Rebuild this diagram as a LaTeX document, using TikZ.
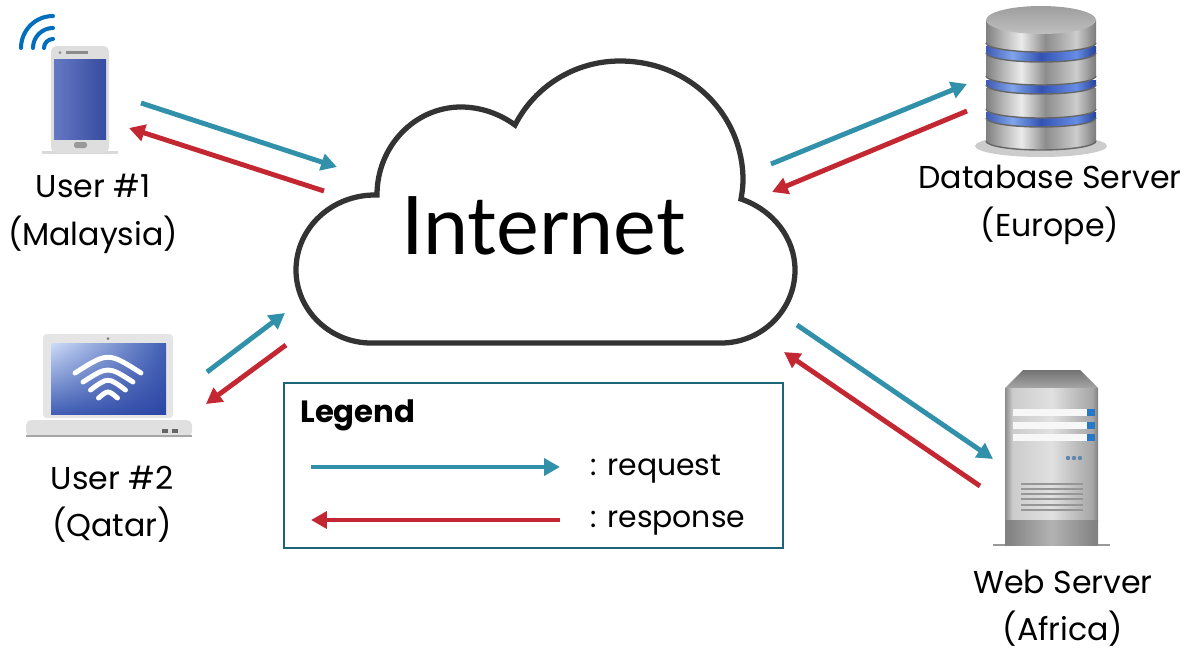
\documentclass[tikz,border=0pt]{standalone}
\usepackage{fontspec}
\setmainfont{Poppins}
\newfontfamily\titlefont{Lato}
\usepackage{tikz}
\usetikzlibrary{positioning}
\usetikzlibrary{arrows.meta}
\usetikzlibrary{shadings}
\definecolor{requestcol}{RGB}{50,145,170}
\definecolor{responsecol}{RGB}{195,40,50}
\definecolor{boxcol}{RGB}{30,100,120}
\definecolor{wificol}{RGB}{0,110,190}
\definecolor{ventcol}{RGB}{150,150,150}
\definecolor{btncol}{RGB}{40,120,200}
\definecolor{dotcol}{RGB}{95,135,175}
\definecolor{screenhi}{RGB}{205,220,248}
\definecolor{screenmid}{RGB}{65,95,180}
\definecolor{screenlo}{RGB}{45,70,165}
\definecolor{phoneleft}{RGB}{100,120,195}
\definecolor{phoneright}{RGB}{55,75,160}
\pgfdeclarehorizontalshading{metal}{100bp}{rgb(0bp)=(.50,.50,.50); rgb(25bp)=(.50,.50,.50); rgb(33bp)=(.72,.72,.72); rgb(41bp)=(.92,.92,.92); rgb(52bp)=(.55,.55,.55); rgb(66bp)=(.80,.80,.80); rgb(75bp)=(.48,.48,.48); rgb(100bp)=(.48,.48,.48)}
\pgfdeclarehorizontalshading{bandblue}{100bp}{rgb(0bp)=(.25,.35,.70); rgb(25bp)=(.25,.35,.70); rgb(37bp)=(.50,.65,.92); rgb(50bp)=(.20,.32,.70); rgb(66bp)=(.40,.55,.90); rgb(75bp)=(.15,.25,.60); rgb(100bp)=(.15,.25,.60)}
\pgfdeclarehorizontalshading{towergray}{100bp}{rgb(0bp)=(.55,.55,.55); rgb(25bp)=(.55,.55,.55); rgb(29bp)=(.80,.80,.80); rgb(50bp)=(.88,.88,.88); rgb(72bp)=(.65,.65,.65); rgb(75bp)=(.50,.50,.50); rgb(100bp)=(.50,.50,.50)}
\tikzset{
    request/.style={draw=requestcol, line width=2.8pt, -{Triangle[length=9pt,width=9.5pt]}},
    response/.style={draw=responsecol, line width=2.8pt, -{Triangle[length=9pt,width=9.5pt]}},
    place/.style={font=\fontsize{18}{27}\selectfont, align=center},
    legendtext/.style={font=\fontsize{17}{20}\selectfont, anchor=base west, inner sep=0pt},
}
% one disk of the database: top of side, bottom of side, shading
\newcommand{\dbslab}[3]{
    \shade[shading=#3] (986,#1) -- (986,#2)
        arc[start angle=180, end angle=0, x radius=55, y radius=9] -- (1096,#1) -- cycle;
    \draw[black!60, line width=0.8pt] (986,#2)
        arc[start angle=180, end angle=0, x radius=55, y radius=9];
}
\begin{document}
\begin{tikzpicture}[x=0.02cm, y=-0.02cm]
    \useasboundingbox (0,0) rectangle (1192,656);

    % cloud
    \draw[line width=3pt, draw=black!80, fill=white] (371,343)
        .. controls (330,343) and (296,310) .. (296,270)
        .. controls (296,228) and (332,194) .. (377,195)
        .. controls (377,146) and (415,107) .. (461,107)
        .. controls (481,107) and (500,114) .. (515,125)
        .. controls (535,86) and (575,61) .. (620,61)
        .. controls (690,61) and (743,115) .. (743,180)
        .. controls (743,187) and (742,193) .. (741,199)
        .. controls (773,210) and (795,238) .. (795,270)
        .. controls (795,310) and (762,343) .. (721,343) -- cycle;
    \node (inet) at (543,226) {\titlefont\fontsize{46}{56}\selectfont Internet};

    % phone
    \fill[black!15] (42,151) rectangle (118,154);
    \fill[rounded corners=3pt, black!13] (51,46) rectangle (109,153);
    \shade[left color=phoneleft, right color=phoneright] (54,59) rectangle (106,139);
    \fill[black!45] (66,51) rectangle (88,54);
    \fill[black!45] (60,52.5) circle (1.5);
    \fill[black!40, rounded corners=1pt] (74,142) rectangle (87,148);
    \foreach \r in {9,20,32} {
        \draw[line width=2.3pt, draw=wificol, line cap=round] (53-\r,48) arc[start angle=180, end angle=270, radius=\r];
    }

    % laptop
    \fill[black!10, rounded corners=2pt] (43,334) rectangle (173,418);
    \shade[upper left=screenhi, upper right=screenmid, lower left=screenmid, lower right=screenlo] (51,343) rectangle (166,414);
    \fill[black!50] (108,338.5) circle (1.5);
    \fill[black!12, rounded corners=3pt] (26,420) rectangle (192,437);
    \fill[black!35] (26,435) rectangle (192,437);
    \fill[black!60] (162,429) rectangle (168,433);
    \fill[black!60] (172,429) rectangle (178,433);
    \foreach \w/\yb/\ct in {33/373/352, 25/382/366, 17.5/390/377, 9.5/398/390} {
        \draw[line width=2.8pt, draw=white, line cap=round] (108-\w,\yb) .. controls (108,\ct) .. (108+\w,\yb);
    }

    % database
    \fill[black!20] (1041,146) ellipse[x radius=66, y radius=11];
    \dbslab{120}{141}{metal}
    \dbslab{112}{118}{bandblue}
    \dbslab{88}{109}{metal}
    \dbslab{80}{85}{bandblue}
    \dbslab{55}{76}{metal}
    \dbslab{46}{53}{bandblue}
    \dbslab{20}{43}{metal}
    \shade[top color=black!38, bottom color=black!25] (1041,20) ellipse[x radius=55, y radius=14];

    % web server
    \fill[black!40] (993,544) rectangle (1110,546);
    \shade[top color=black!55, bottom color=black!35] (1023,370) -- (1080,370) -- (1098,388) -- (1005,388) -- cycle;
    \shade[shading=towergray] (1005,388) rectangle (1098,520);
    \shade[left color=black!50, right color=black!50, middle color=black!30] (1005,520) rectangle (1098,545);
    \foreach \y in {409,421.5,434} {
        \fill[black!3] (1013,\y) rectangle (1087,\y+7);
        \fill[btncol] (1087,\y) rectangle (1095,\y+7);
    }
    \foreach \x in {1068,1074,1080} {
        \fill[dotcol] (\x,458) circle (2.2);
    }
    \foreach \y in {484,489,494,499,505,510} {
        \draw[ventcol, line width=1.2pt] (1021,\y) -- (1083,\y);
    }

    % labels
    \node[place] (user1) at (93,214) {User \#1\\(Malaysia)};
    \node[place] (user2) at (112,504) {User \#2\\(Qatar)};
    \node[place] (dbase) at (1050,205) {Database Server\\(Europe)};
    \node[place] (wserv) at (1063,608) {Web Server\\(Africa)};

    % arrows
    \coordinate (a1) at (141,103);
    \coordinate (a2) at (337,167);
    \coordinate (a3) at (324,191);
    \coordinate (a4) at (129,128);
    \draw[request] (a1) -- (a2);
    \draw[response] (a3) -- (a4);

    \coordinate (b1) at (207,372);
    \coordinate (b2) at (285,313);
    \coordinate (b3) at (286,345);
    \coordinate (b4) at (206,404);
    \draw[request] (b1) -- (b2);
    \draw[response] (b3) -- (b4);

    \coordinate (c1) at (771,164);
    \coordinate (c2) at (967,84);
    \coordinate (c3) at (967,111);
    \coordinate (c4) at (772,192);
    \draw[request] (c1) -- (c2);
    \draw[response] (c3) -- (c4);

    \coordinate (d1) at (797,325);
    \coordinate (d2) at (993,459);
    \coordinate (d3) at (980,486);
    \coordinate (d4) at (784,352);
    \draw[request] (d1) -- (d2);
    \draw[response] (d3) -- (d4);

    % legend
    \node[draw=boxcol, line width=1.5pt, minimum width=9.98cm, minimum height=3.3cm, inner sep=0pt] (legend) at (533.5,465.5) {};
    \node[legendtext, font=\fontsize{17.5}{20}\selectfont\bfseries] (legtitle) at (300,422) {Legend};
    \node[legendtext] (legreq) at (590,475) {: request};
    \node[legendtext] (legres) at (590,527) {: response};
    \coordinate (e1) at (311,467);
    \coordinate (e2) at (560,467);
    \coordinate (e3) at (560,520);
    \coordinate (e4) at (311,520);
    \draw[request] (e1) -- (e2);
    \draw[response] (e3) -- (e4);
\end{tikzpicture}
\end{document}
